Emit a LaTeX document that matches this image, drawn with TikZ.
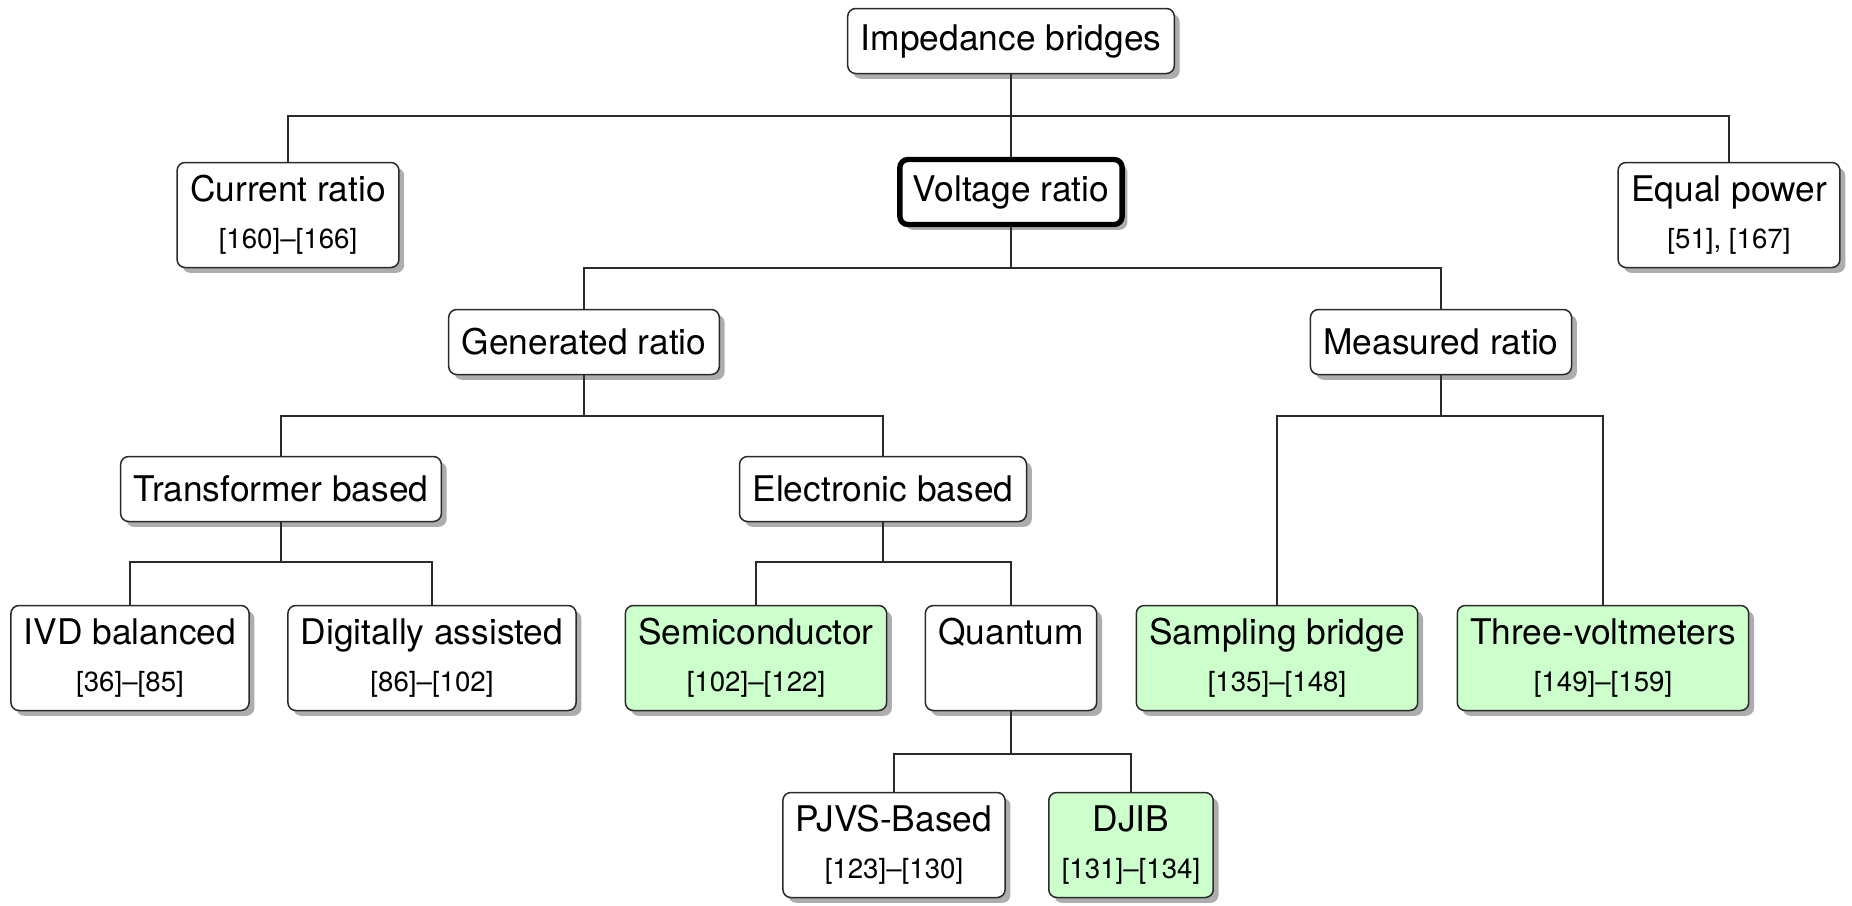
\documentclass[tikz,border=0pt]{standalone}
\usepackage{fontspec}
\setmainfont{TeX Gyre Heros}
\usepackage{tikz}
\usetikzlibrary{shadows}
\definecolor{softgreen}{HTML}{CCFFCC}
\definecolor{frame}{HTML}{2A2A2A}
\definecolor{shade}{HTML}{8A8A8A}
\newcommand{\citerange}[1]{\\[1.5pt]{\fontsize{8.3}{10}\selectfont #1}}
\tikzset{
  box/.style={
    draw=frame, line width=0.45pt, rounded corners=2.4pt, fill=white,
    align=center, inner xsep=3.9pt, inner ysep=2pt, minimum height=19.5pt,
    font=\fontsize{10.6}{12.5}\selectfont,
    drop shadow={shadow xshift=1.6pt, shadow yshift=-1.6pt, fill=shade, opacity=0.7}
  },
  leaf/.style={box, minimum height=31.5pt},
  found/.style={leaf, fill=softgreen},
  focus/.style={box, line width=1.6pt, draw=black},
  fork/.style={draw=frame, line width=0.4pt}
}
\begin{document}
\begin{tikzpicture}[x=0.3pt, y=-0.3pt]
  \useasboundingbox (0,0) rectangle (1852,905);

  % top levels
  \node[box] (imp) at (1011,41) {Impedance bridges};
  \node[leaf] (cur) at (288,215) {Current ratio\citerange{[160]--[166]}};
  \node[focus] (volt) at (1011,192) {Voltage ratio};
  \node[leaf] (eqp) at (1729,215) {Equal power\citerange{[51], [167]}};

  \node[box] (gen) at (584,342) {Generated ratio};
  \node[box] (mea) at (1441,342) {Measured ratio};

  \node[box] (trf) at (281,489) {Transformer based};
  \node[box] (ele) at (883,489) {Electronic based};

  % leaves
  \node[leaf] (ivd) at (130,658) {IVD balanced\citerange{[36]--[85]}};
  \node[leaf] (dig) at (432,658) {Digitally assisted\citerange{[86]--[102]}};
  \node[found] (semi) at (756,658) {Semiconductor\citerange{[102]--[122]}};
  \node[leaf] (quan) at (1011,658) {Quantum\citerange{\phantom{[0]}}};
  \node[found] (samp) at (1277,658) {Sampling bridge\citerange{[135]--[148]}};
  \node[found] (three) at (1603,658) {Three-voltmeters\citerange{[149]--[159]}};

  \node[leaf] (pjvs) at (894,845) {PJVS-Based\citerange{[123]--[130]}};
  \node[found] (djib) at (1131,845) {DJIB\citerange{[131]--[134]}};

  % forks
  \coordinate (impfork) at (1011,116);
  \coordinate (voltfork) at (1011,268);
  \coordinate (genfork) at (584,416);
  \coordinate (meafork) at (1441,416);
  \coordinate (trffork) at (281,562);
  \coordinate (elefork) at (883,562);
  \coordinate (quanfork) at (1011,754);

  \draw[fork] (imp) -- (impfork);
  \draw[fork] (impfork) -| (cur);
  \draw[fork] (impfork) -- (volt);
  \draw[fork] (impfork) -| (eqp);

  \draw[fork] (volt) -- (voltfork);
  \draw[fork] (voltfork) -| (gen);
  \draw[fork] (voltfork) -| (mea);

  \draw[fork] (gen) -- (genfork);
  \draw[fork] (genfork) -| (trf);
  \draw[fork] (genfork) -| (ele);

  \draw[fork] (mea) -- (meafork);
  \draw[fork] (meafork) -| (samp);
  \draw[fork] (meafork) -| (three);

  \draw[fork] (trf) -- (trffork);
  \draw[fork] (trffork) -| (ivd);
  \draw[fork] (trffork) -| (dig);

  \draw[fork] (ele) -- (elefork);
  \draw[fork] (elefork) -| (semi);
  \draw[fork] (elefork) -| (quan);

  \draw[fork] (quan) -- (quanfork);
  \draw[fork] (quanfork) -| (pjvs);
  \draw[fork] (quanfork) -| (djib);
\end{tikzpicture}
\end{document}
